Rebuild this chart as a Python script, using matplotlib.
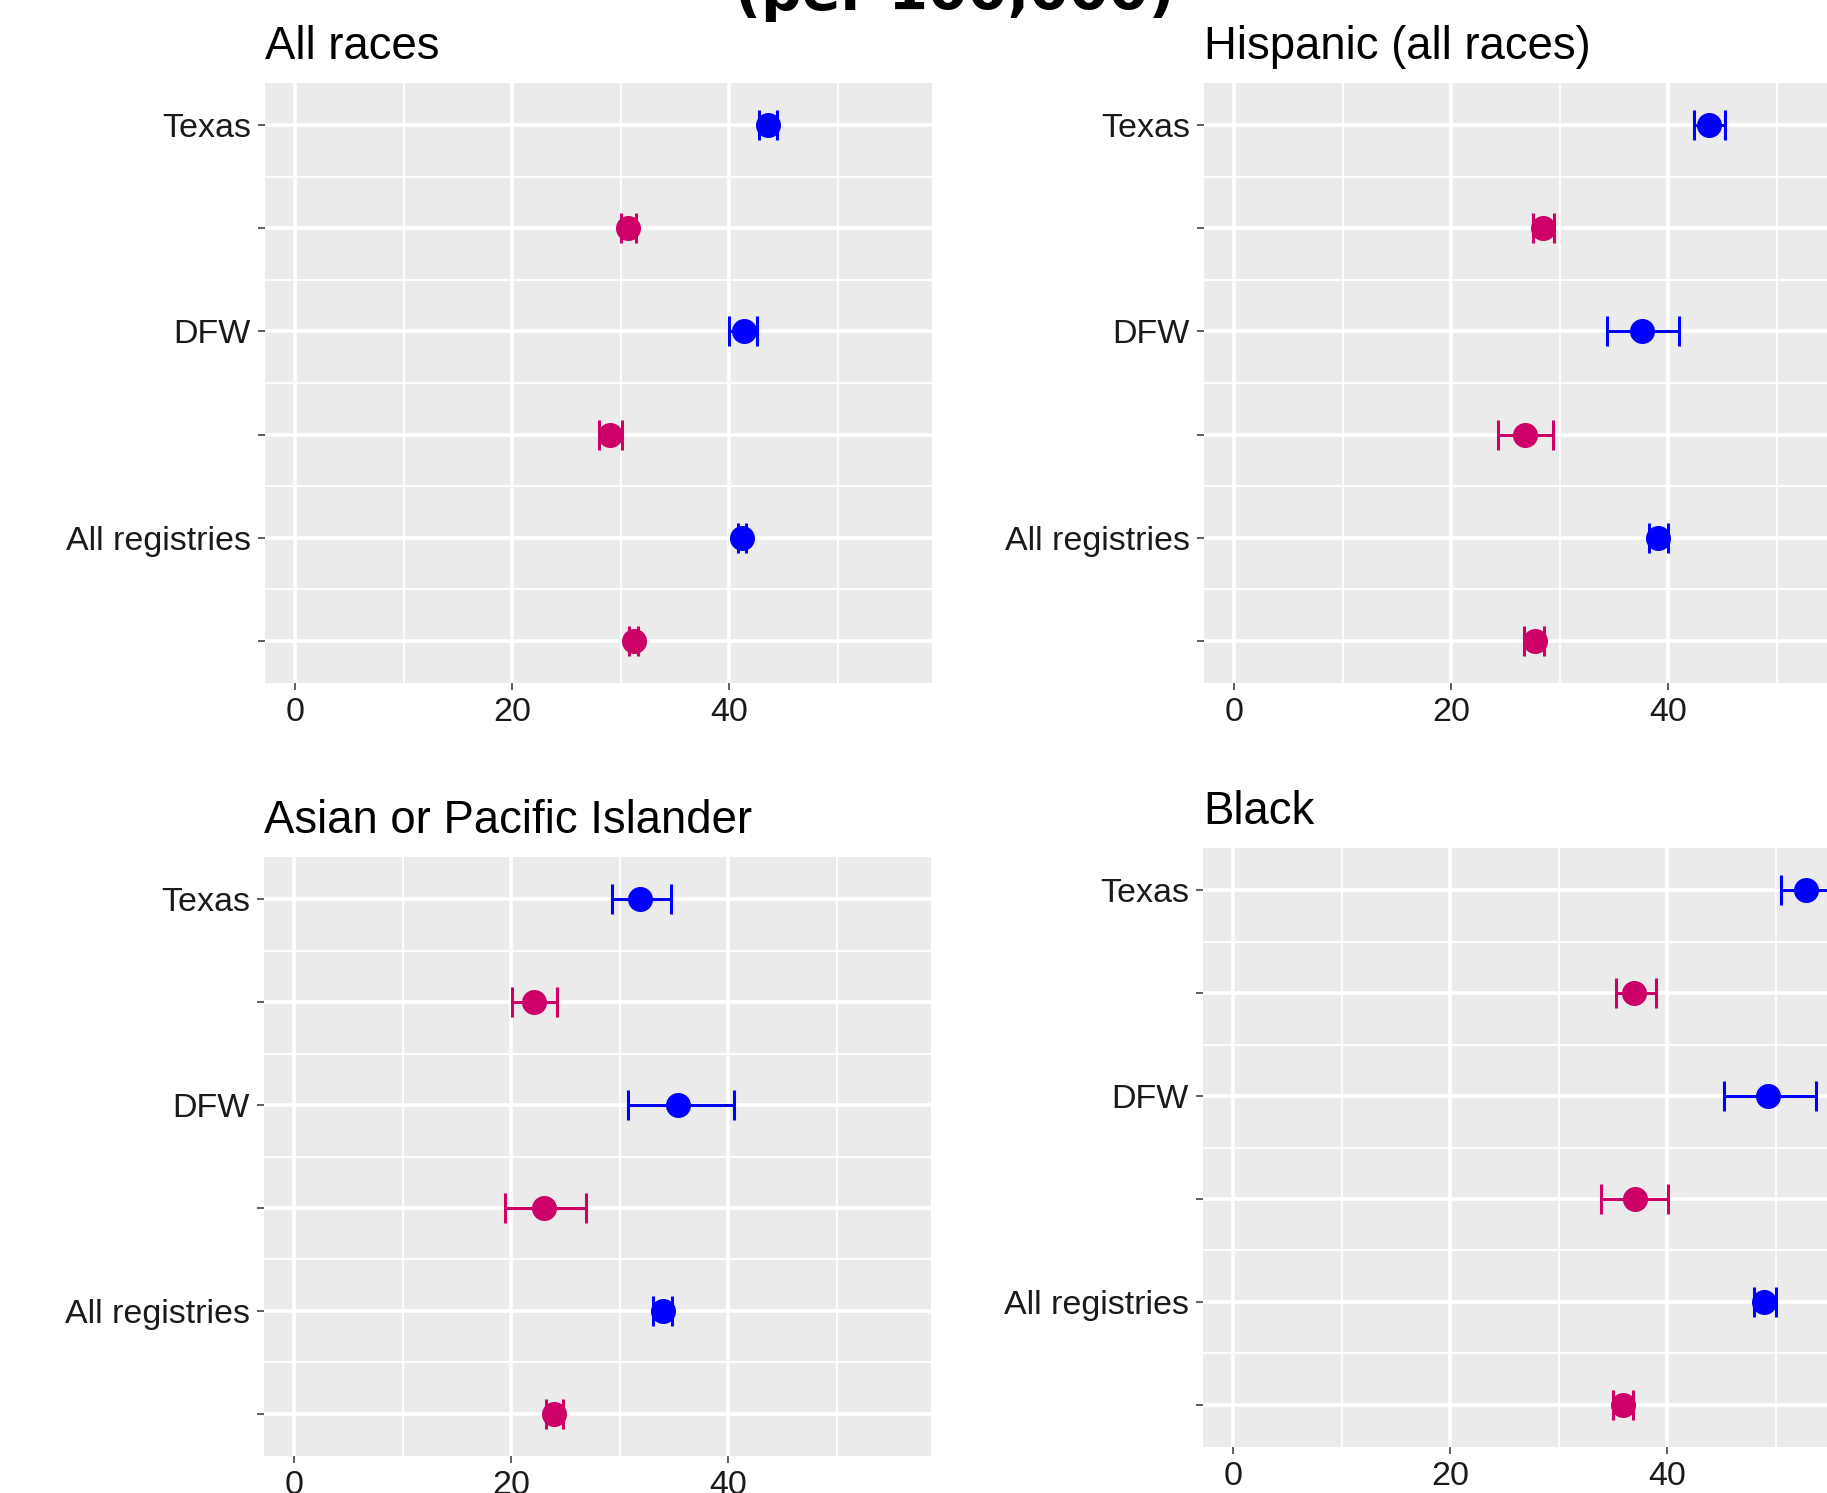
#!/usr/bin/env python3
"""Rates with 95% CI by registry, four race panels (ggplot-like look)."""
import matplotlib
import numpy as np

matplotlib.use("Agg")
import matplotlib.pyplot as plt  # noqa: E402
from matplotlib.transforms import offset_copy  # noqa: E402

plt.rcParams.update({"font.family": ["Liberation Sans", "DejaVu Sans"]})

W, H, DPI = 1827, 1493, 100
BLUE, MAGENTA = "#0000FF", "#CC0066"

rows = ["Texas", "", "DFW", "", "All registries", ""]
row_colors = [BLUE, MAGENTA, BLUE, MAGENTA, BLUE, MAGENTA]

all_rate = [43.6, 30.7, 41.35, 29.0, 41.2, 31.2]
all_lo = [42.8, 30.0, 40.0, 28.0, 40.8, 30.8]
all_hi = [44.4, 31.4, 42.6, 30.1, 41.6, 31.6]

hisp_rate = [43.8, 28.5, 37.6, 26.85, 39.1, 27.7]
hisp_lo = [42.4, 27.5, 34.4, 24.3, 38.2, 26.75]
hisp_hi = [45.2, 29.5, 41.0, 29.4, 40.0, 28.6]

api_rate = [31.9, 22.1, 35.35, 23.05, 33.96, 23.96]
api_lo = [29.3, 20.05, 30.8, 19.45, 33.1, 23.2]
api_hi = [34.7, 24.25, 40.5, 26.9, 34.8, 24.8]

black_rate = [52.8, 36.96, 49.3, 37.0, 48.9, 35.9]
black_lo = [50.5, 35.3, 45.2, 33.95, 48.0, 35.0]
black_hi = [55.1, 38.96, 53.7, 40.1, 50.0, 36.85]

titles = ["All races", "Hispanic (all races)",
          "Asian or Pacific Islander", "Black"]
xticks = [0, 20, 40]

# panel boxes in pixels: left, top, right, bottom
boxes = [(265, 83, 932, 683), (1204, 83, 1871, 683),
         (264, 857, 931, 1456), (1203, 848, 1870, 1447)]


def panel(fig, box, title, rate, lo, hi):
    l, t, r, b = box
    ax = fig.add_axes([l / W, 1 - b / H, (r - l) / W, (b - t) / H])
    ax.set_facecolor("#EBEBEB")
    for s in ax.spines.values():
        s.set_visible(False)
    y = np.arange(1, len(rows) + 1)
    rate, lo, hi = map(np.asarray, (rate, lo, hi))
    for yi, v, a, c, col in zip(y, rate, lo, hi, row_colors):
        ax.errorbar(v, yi, xerr=[[v - a], [c - v]], fmt="o", color=col,
                    ms=17, elinewidth=2.2, capsize=11, capthick=2.2, zorder=3)
    ax.set_xlim(-2.78, 58.7)
    ax.set_ylim(6.41, 0.59)
    ax.set_xticks(xticks)
    ax.set_xticks([10, 30, 50], minor=True)
    ax.set_yticks(y)
    ax.set_yticklabels(rows)
    ax.set_yticks(y[:-1] + 0.5, minor=True)
    ax.grid(which="major", color="white", lw=2.6)
    ax.grid(which="minor", color="white", lw=1.3)
    ax.set_axisbelow(True)
    ax.tick_params(which="major", length=5, width=1.1, color="#333333",
                   labelsize=24.5, labelcolor="#1A1A1A", pad=5)
    ax.tick_params(which="minor", length=0)
    tr = offset_copy(ax.transAxes, fig=fig, x=0, y=17, units="points")
    ax.text(0, 1, title, transform=tr, fontsize=32.8, ha="left",
            va="baseline", color="black")
    return ax


fig = plt.figure(figsize=(W / DPI, H / DPI), dpi=DPI)
panel(fig, boxes[0], titles[0], all_rate, all_lo, all_hi)
panel(fig, boxes[1], titles[1], hisp_rate, hisp_lo, hisp_hi)
panel(fig, boxes[2], titles[2], api_rate, api_lo, api_hi)
panel(fig, boxes[3], titles[3], black_rate, black_lo, black_hi)
# main title, only its lower edge falls inside the picture
fig.text(955 / W, 1 - 10.5 / H, "(per 100,000)", ha="center", va="baseline",
         fontsize=41, fontweight="bold", family="DejaVu Sans")
fig.savefig("out.png", dpi=DPI)
